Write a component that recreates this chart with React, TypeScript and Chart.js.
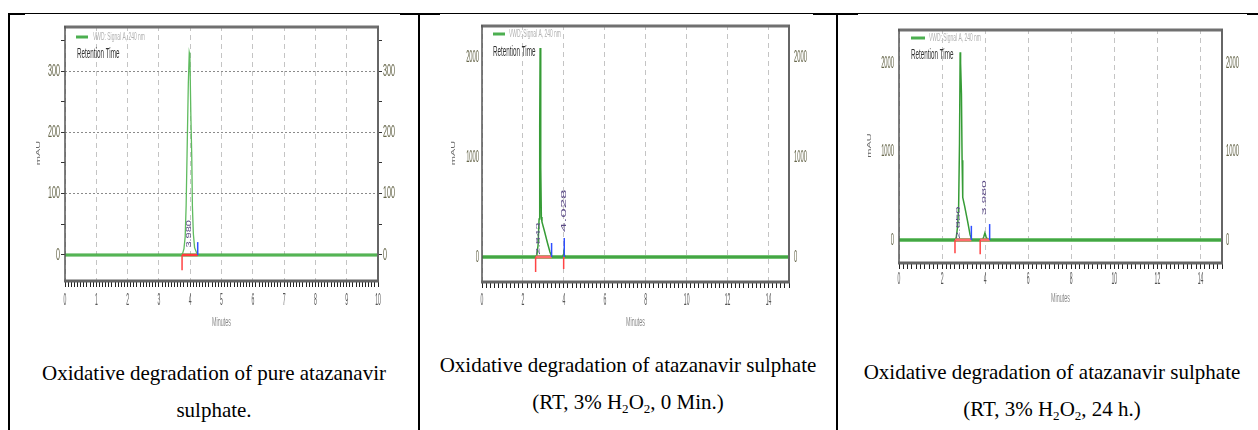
import React, { useEffect, useRef } from "react";
import { Chart, registerables } from "chart.js";
Chart.register(...registerables);

// ---------- Panel 1: oxidative degradation of pure atazanavir sulphate ----------
const p1Time = [0, 3.70, 3.76, 3.80, 3.84, 3.87, 3.90, 3.94, 3.97, 3.99, 4.02, 4.05, 4.07, 4.10, 4.14, 4.20, 4.26, 10];
const p1Signal = [0, 0, 3, 10, 30, 80, 165, 280, 330, 325, 230, 160, 80, 35, 12, 4, 0, 0];
const p1XTicks = [0, 1, 2, 3, 4, 5, 6, 7, 8, 9, 10];
const p1YTicks = [0, 100, 200, 300];
const p1IntStart = [3.74];
const p1IntEnd = [4.24];
const p1IntDown = [-25];
const p1IntUp = [21];
const p1PeakRT = [3.97];
const p1PeakLabelY = [12];
const p1PeakLabels = ["3.980"];

// ---------- Panel 2: RT, 3% H2O2, 0 min ----------
const p2Time = [0, 2.62, 2.68, 2.74, 2.79, 2.82, 2.84, 2.86, 2.88, 2.90, 2.93, 3.05, 3.20, 3.32, 3.42, 3.94, 3.98, 4.00, 4.02, 4.06, 15];
const p2Signal = [0, 0, 20, 120, 380, 1300, 2090, 1750, 900, 400, 350, 260, 140, 50, 0, 0, 25, 40, 25, 0, 0];
const p2XTicks = [0, 2, 4, 6, 8, 10, 12, 14];
const p2YTicks = [0, 1000, 2000];
const p2IntStart = [2.62, 3.99];
const p2IntEnd = [3.40, 4.02];
const p2IntDown = [-150, -120];
const p2IntUp = [140, 190];
const p2PeakRT = [2.76, 4.01];
const p2PeakLabelY = [20, 250];
const p2PeakLabels = ["2.843", "4.028"];

// ---------- Panel 3: RT, 3% H2O2, 24 h ----------
const p3Time = [0, 2.60, 2.66, 2.72, 2.77, 2.81, 2.84, 2.86, 2.90, 2.93, 2.96, 3.05, 3.18, 3.30, 3.38, 3.88, 3.94, 3.99, 4.04, 4.12, 15];
const p3Signal = [0, 0, 30, 150, 380, 1100, 2120, 2000, 1650, 900, 480, 380, 220, 60, 0, 0, 40, 80, 40, 0, 0];
const p3XTicks = [0, 2, 4, 6, 8, 10, 12, 14];
const p3YTicks = [0, 1000, 2000];
const p3IntStart = [2.60, 3.77];
const p3IntEnd = [3.36, 4.21];
const p3IntDown = [-150, -160];
const p3IntUp = [160, 180];
const p3PeakRT = [2.78, 3.95];
const p3PeakLabelY = [10, 280];
const p3PeakLabels = ["2.850", "3.980"];

const LEGEND_TEXT = "VWD: Signal A, 240 nm";
const LEGEND_TITLE = "Retention Time";
const X_TITLE = "Minutes";
const Y_TITLE = "mAU";

const SANS = '"Liberation Sans", Arial, sans-serif';

type PanelCfg = {
  left: number; top: number; w: number; h: number;
  L: number; R: number; T: number; B: number;
  xMax: number; xMinor: number; yMin: number; yMax: number; yMinor: number;
  time: number[]; signal: number[];
  xTicks: number[]; yTicks: number[];
  intStart: number[]; intEnd: number[]; intDown: number[]; intUp: number[];
  peakRT: number[]; peakY: number[]; peakLabels: string[]; peakFont: number[]; peakSx: number;
  xLabelDy: number; xTitleDy: number; yTitleDx: number; yGapL: number; yGapR: number;
  yTickSx: number; legLineY: number; legLineX: [number, number]; legTextX: number; retX: number; retY: number;
  baseColor: string; baseWidth: number; sigColor: string; sigWidth: number; redBaseColor: string; redBaseWidth: number;
};

const panels: PanelCfg[] = [
  {
    left: 10, top: 15, w: 408, h: 330, L: 65, R: 378, T: 26, B: 280,
    xMax: 10, xMinor: 0.1, yMin: -40.8, yMax: 373.4, yMinor: 50,
    time: p1Time, signal: p1Signal, xTicks: p1XTicks, yTicks: p1YTicks,
    intStart: p1IntStart, intEnd: p1IntEnd, intDown: p1IntDown, intUp: p1IntUp,
    peakRT: p1PeakRT, peakY: p1PeakLabelY, peakLabels: p1PeakLabels, peakFont: [11], peakSx: 0.6,
    xLabelDy: 20, xTitleDy: 43, yTitleDx: -27, yGapL: 5, yGapR: 5, yTickSx: 0.42,
    legLineY: 11, legLineX: [11, 23], legTextX: 28, retX: 12, retY: 28,
    baseColor: "#36a336", baseWidth: 3, sigColor: "#5fbb5f", sigWidth: 1.3, redBaseColor: "#ff3b3b", redBaseWidth: 2.5,
  },
  {
    left: 420, top: 15, w: 416, h: 330, L: 482, R: 789, T: 25, B: 281,
    xMax: 15, xMinor: 0.2, yMin: -240, yMax: 2320, yMinor: 500,
    time: p2Time, signal: p2Signal, xTicks: p2XTicks, yTicks: p2YTicks,
    intStart: p2IntStart, intEnd: p2IntEnd, intDown: p2IntDown, intUp: p2IntUp,
    peakRT: p2PeakRT, peakY: p2PeakLabelY, peakLabels: p2PeakLabels, peakFont: [13, 17], peakSx: 0.42,
    xLabelDy: 19, xTitleDy: 42, yTitleDx: -29, yGapL: 3, yGapR: 5, yTickSx: 0.34,
    legLineY: 9, legLineX: [11, 23], legTextX: 27, retX: 11, retY: 27,
    baseColor: "rgba(90,185,90,0.85)", baseWidth: 4, sigColor: "#369c36", sigWidth: 1.5, redBaseColor: "#ff6b6b", redBaseWidth: 3,
  },
  {
    left: 838, top: 15, w: 420, h: 330, L: 899, R: 1222, T: 29, B: 262,
    xMax: 15, xMinor: 0.2, yMin: -248.6, yMax: 2384, yMinor: 500,
    time: p3Time, signal: p3Signal, xTicks: p3XTicks, yTicks: p3YTicks,
    intStart: p3IntStart, intEnd: p3IntEnd, intDown: p3IntDown, intUp: p3IntUp,
    peakRT: p3PeakRT, peakY: p3PeakLabelY, peakLabels: p3PeakLabels, peakFont: [13, 14], peakSx: 0.42,
    xLabelDy: 17, xTitleDy: 37, yTitleDx: -30, yGapL: 5, yGapR: 4, yTickSx: 0.34,
    legLineY: 9, legLineX: [12, 26], legTextX: 30, retX: 12, retY: 26,
    baseColor: "rgba(90,185,90,0.85)", baseWidth: 4, sigColor: "#369c36", sigWidth: 1.5, redBaseColor: "#ff6b6b", redBaseWidth: 3,
  },
];

const isMult = (v: number, s: number) => Math.abs(v / s - Math.round(v / s)) < 1e-6;
const inList = (v: number, list: number[]) => list.some((t) => Math.abs(t - v) < 1e-6);

function sText(
  ctx: CanvasRenderingContext2D, text: string, x: number, y: number,
  font: string, color: string, sx: number, align: CanvasTextAlign = "center", rot = 0,
) {
  ctx.save();
  ctx.translate(x, y);
  ctx.scale(sx, 1);
  if (rot) ctx.rotate(rot);
  ctx.font = font;
  ctx.fillStyle = color;
  ctx.textAlign = align;
  ctx.textBaseline = "middle";
  ctx.fillText(text, 0, 0);
  ctx.restore();
}

function seg(ctx: CanvasRenderingContext2D, x1: number, y1: number, x2: number, y2: number) {
  ctx.beginPath();
  ctx.moveTo(x1, y1);
  ctx.lineTo(x2, y2);
  ctx.stroke();
}

function makeDecor(p: PanelCfg) {
  return {
    id: "chromDecor",
    afterDraw(chart: any) {
      const ctx: CanvasRenderingContext2D = chart.ctx;
      const { left: L, right: R, top: T, bottom: B } = chart.chartArea;
      const xs = chart.scales.x;
      const ys = chart.scales.y;
      ctx.save();
      // frame
      ctx.setLineDash([]);
      ctx.strokeStyle = "#707070"; ctx.lineWidth = 3; seg(ctx, L - 1, T + 1, R + 1, T + 1);
      ctx.strokeStyle = "#555"; ctx.lineWidth = 1.5; seg(ctx, L, T, L, B);
      ctx.strokeStyle = "#666"; ctx.lineWidth = 2; seg(ctx, R, T, R, B);
      ctx.strokeStyle = "#666"; ctx.lineWidth = 3; seg(ctx, L - 1, B + 1, R + 1, B + 1);
      ctx.restore();

      // x tick labels
      p.xTicks.forEach((v) => {
        sText(ctx, String(v), xs.getPixelForValue(v), B + p.xLabelDy, `17px ${SANS}`, "#555", 0.3);
      });
      // y tick labels left & right
      p.yTicks.forEach((v) => {
        const y = ys.getPixelForValue(v);
        sText(ctx, String(v), L - p.yGapL, y, `17px ${SANS}`, "#66664a", p.yTickSx, "right");
        sText(ctx, String(v), R + p.yGapR, y, `17px ${SANS}`, "#66664a", p.yTickSx, "left");
      });
      // axis titles
      sText(ctx, X_TITLE, (L + R) / 2, B + p.xTitleDy, `12px ${SANS}`, "#888", 0.45);
      sText(ctx, Y_TITLE, L + p.yTitleDx, (T + B) / 2, `11px ${SANS}`, "#666", 0.5, "center", -Math.PI / 2);

      // legend
      ctx.save();
      ctx.strokeStyle = "#4caf50"; ctx.lineWidth = 3;
      seg(ctx, L + p.legLineX[0], T + p.legLineY, L + p.legLineX[1], T + p.legLineY);
      ctx.restore();
      sText(ctx, LEGEND_TEXT, L + p.legTextX, T + p.legLineY, `11px ${SANS}`, "#b0b0b0", 0.45, "left");
      sText(ctx, LEGEND_TITLE, L + p.retX, T + p.retY, `14px ${SANS}`, "#333", 0.45, "left");

      // peak retention-time labels
      p.peakLabels.forEach((lab, i) => {
        const x = xs.getPixelForValue(p.peakRT[i]);
        const y = ys.getPixelForValue(p.peakY[i]);
        sText(ctx, lab, x, y, `${p.peakFont[i]}px ${SANS}`, "#5b4a86", p.peakSx, "left", -Math.PI / 2);
      });
    },
  };
}

function buildConfig(p: PanelCfg): any {
  const leftW = p.L - p.left;
  const rightW = p.left + p.w - p.R;
  const bottomH = p.top + p.h - p.B;
  const padTop = p.T - p.top;

  const datasets: any[] = [
    {
      label: "baseline", data: [{ x: 0, y: 0 }, { x: p.xMax, y: 0 }],
      borderColor: p.baseColor, borderWidth: p.baseWidth, order: 10,
    },
    {
      label: LEGEND_TEXT, data: p.time.map((t, i) => ({ x: t, y: p.signal[i] })),
      borderColor: p.sigColor, borderWidth: p.sigWidth, order: 5,
    },
  ];
  p.intStart.forEach((s, i) => {
    const e = p.intEnd[i];
    datasets.push({
      label: "int-base", data: [{ x: s, y: 0 }, { x: e, y: 0 }],
      borderColor: p.redBaseColor, borderWidth: p.redBaseWidth, order: 3,
    });
    datasets.push({
      label: "int-start", data: [{ x: s, y: 0 }, { x: s, y: p.intDown[i] }],
      borderColor: "#ff4444", borderWidth: 1.5, order: 2,
    });
    datasets.push({
      label: "int-end", data: [{ x: e, y: 0 }, { x: e, y: p.intUp[i] }],
      borderColor: "#2f4fff", borderWidth: 1.5, order: 2,
    });
  });

  const yAxis = (pos: "left" | "right", width: number) => ({
    type: "linear",
    position: pos,
    min: p.yMin,
    max: p.yMax,
    ticks: { display: false, stepSize: p.yMinor },
    afterBuildTicks: (s: any) => { s.ticks = s.ticks.filter((t: any) => isMult(t.value, p.yMinor)); },
    afterFit: (s: any) => { s.width = width; },
    grid: {
      display: true,
      drawOnChartArea: pos === "left",
      color: (c: any) => (c.tick && inList(c.tick.value, p.yTicks) ? "#8a8a8a" : "rgba(0,0,0,0)"),
      lineWidth: 1,
      tickColor: "#333",
      tickLength: 4,
      borderDash: [2, 2],
    },
    border: { display: false, dash: [2, 2] },
  });

  return {
    type: "line",
    data: { datasets },
    options: {
      animation: false,
      responsive: false,
      events: [],
      parsing: true,
      layout: { padding: { top: padTop, left: 0, right: 0, bottom: 0 }, autoPadding: false },
      elements: { point: { radius: 0 }, line: { tension: 0 } },
      plugins: { legend: { display: false }, tooltip: { enabled: false }, title: { display: false } },
      scales: {
        x: {
          type: "linear",
          position: "bottom",
          min: 0,
          max: p.xMax,
          ticks: { display: false, stepSize: p.xMinor, autoSkip: false },
          afterBuildTicks: (s: any) => { s.ticks = s.ticks.filter((t: any) => isMult(t.value, p.xMinor)); },
          afterFit: (s: any) => { s.height = bottomH; },
          grid: {
            display: true,
            color: (c: any) => (c.tick && inList(c.tick.value, p.xTicks) ? "#c4c4c4" : "rgba(0,0,0,0)"),
            lineWidth: 1,
            tickColor: "#222",
            tickLength: 7,
            borderDash: [5, 4],
          },
          border: { display: false, dash: [5, 4] },
        },
        y: yAxis("left", leftW),
        y2: yAxis("right", rightW),
      },
    },
    plugins: [makeDecor(p)],
  };
}

function Panel({ p }: { p: PanelCfg }) {
  const ref = useRef<HTMLCanvasElement>(null);
  useEffect(() => {
    if (!ref.current) return;
    const chart = new Chart(ref.current, buildConfig(p));
    return () => chart.destroy();
  }, [p]);
  return (
    <canvas
      ref={ref}
      width={p.w}
      height={p.h}
      style={{ position: "absolute", left: p.left, top: p.top, width: p.w, height: p.h, display: "block" }}
    />
  );
}

const Sub = ({ children }: { children: React.ReactNode }) => (
  <span style={{ fontSize: "0.62em", position: "relative", top: "0.3em" }}>{children}</span>
);

const line = (style: React.CSSProperties) => (
  <div style={{ position: "absolute", background: "#000", ...style }} />
);

export default function App() {
  const capStyle: React.CSSProperties = {
    position: "absolute",
    textAlign: "center",
    fontFamily: '"Liberation Serif", "Times New Roman", serif',
    fontSize: 21,
    lineHeight: "37px",
    color: "#000",
    whiteSpace: "nowrap",
  };
  return (
    <div style={{ position: "absolute", left: 0, top: 0, width: 1258, height: 430, overflow: "hidden", background: "#fff" }}>
      {line({ left: 8, top: 13, width: 1250, height: 1 })}
      {line({ left: 8, top: 13, width: 17, height: 2 })}
      {line({ left: 400, top: 13, width: 40, height: 2 })}
      {line({ left: 813, top: 13, width: 45, height: 2 })}
      {line({ left: 1247, top: 13, width: 11, height: 2 })}
      {line({ left: 8, top: 13, width: 2, height: 417 })}
      {line({ left: 418, top: 13, width: 2, height: 417 })}
      {line({ left: 836, top: 13, width: 2, height: 417 })}

      {panels.map((p, i) => (
        <Panel key={i} p={p} />
      ))}

      <div style={{ ...capStyle, left: 10, width: 408, top: 355 }}>
        Oxidative degradation of pure atazanavir
        <br />
        sulphate.
      </div>
      <div style={{ ...capStyle, left: 420, width: 416, top: 347 }}>
        Oxidative degradation of atazanavir sulphate
        <br />
        (RT, 3% H<Sub>2</Sub>O<Sub>2</Sub>, 0 Min.)
      </div>
      <div style={{ ...capStyle, left: 852, width: 400, top: 354 }}>
        Oxidative degradation of atazanavir sulphate
        <br />
        (RT, 3% H<Sub>2</Sub>O<Sub>2</Sub>, 24 h.)
      </div>
    </div>
  );
}
